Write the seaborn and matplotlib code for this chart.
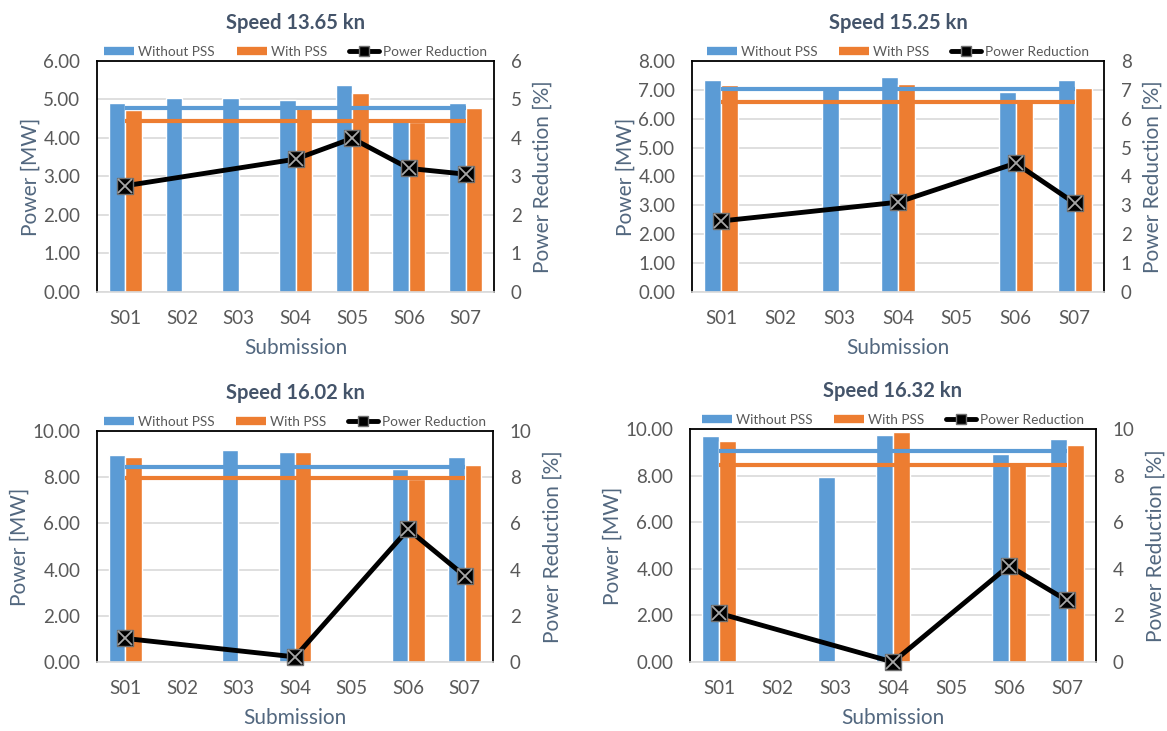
import numpy as np
import pandas as pd
import matplotlib
matplotlib.use("Agg")
import matplotlib.pyplot as plt
import seaborn as sns
from matplotlib.lines import Line2D

nan = np.nan
submissions = ["S01", "S02", "S03", "S04", "S05", "S06", "S07"]
titles = ["Speed 13.65 kn", "Speed 15.25 kn", "Speed 16.02 kn", "Speed 16.32 kn"]

without_pss_1 = [4.92, 5.03, 5.03, 4.98, 5.38, 4.52, 4.90]
with_pss_1 = [4.72, nan, nan, 4.83, 5.16, 4.42, 4.77]
reduction_1 = [2.76, nan, nan, 3.45, 3.99, 3.21, 3.06]
mean_without_1, mean_with_1 = 4.77, 4.43

without_pss_2 = [7.35, nan, 7.05, 7.43, nan, 6.92, 7.33]
with_pss_2 = [7.16, nan, nan, 7.19, nan, 6.58, 7.08]
reduction_2 = [2.46, nan, nan, 3.11, nan, 4.46, 3.08]
mean_without_2, mean_with_2 = 7.04, 6.58

without_pss_3 = [8.96, nan, 9.17, 9.11, nan, 8.37, 8.86]
with_pss_3 = [8.86, nan, nan, 9.08, nan, 7.94, 8.53]
reduction_3 = [1.02, nan, nan, 0.22, nan, 5.74, 3.73]
mean_without_3, mean_with_3 = 8.43, 7.97

without_pss_4 = [9.69, nan, 7.94, 9.76, nan, 8.91, 9.59]
with_pss_4 = [9.49, nan, nan, 9.87, nan, 8.47, 9.31]
reduction_4 = [2.09, nan, nan, 0.00, nan, 4.13, 2.64]
mean_without_4, mean_with_4 = 9.07, 8.47

y_max = [6, 8, 10, 10]
y_step = [1, 1, 2, 2]

panels = [
    (without_pss_1, with_pss_1, reduction_1, mean_without_1, mean_with_1),
    (without_pss_2, with_pss_2, reduction_2, mean_without_2, mean_with_2),
    (without_pss_3, with_pss_3, reduction_3, mean_without_3, mean_with_3),
    (without_pss_4, with_pss_4, reduction_4, mean_without_4, mean_with_4),
]

BLUE = "#5B9BD5"
ORANGE = "#ED7D31"
TICK = "#595959"
TITLE = "#44546A"
AXLAB = "#52677F"

sns.set_theme(style="white")
plt.rcParams["font.family"] = ["Lato", "DejaVu Sans"]

W, H = 1167, 731
fig = plt.figure(figsize=(W / 100, H / 100), dpi=100)

# axes boxes in pixels: left, right, top, bottom
boxes = [(97, 494, 61, 292), (692, 1104, 61, 292), (97, 493, 431, 662), (690, 1096, 429, 662)]

for i, (box, data) in enumerate(zip(boxes, panels)):
    wo, wi, red, m_wo, m_wi = data
    l, r, t, b = box
    ax = fig.add_axes([l / W, 1 - b / H, (r - l) / W, (b - t) / H])
    df = pd.DataFrame({
        "Submission": submissions * 2,
        "Power": list(wo) + list(wi),
        "Series": ["Without PSS"] * len(submissions) + ["With PSS"] * len(submissions),
    })
    sns.barplot(data=df, x="Submission", y="Power", hue="Series", order=submissions,
                hue_order=["Without PSS", "With PSS"], palette=[BLUE, ORANGE],
                width=0.58, ax=ax, legend=False, saturation=1, errorbar=None, zorder=2)
    xs = [0, len(submissions) - 1]
    ax.plot(xs, [m_wo, m_wo], color=BLUE, lw=3, zorder=3, solid_capstyle="butt")
    ax.plot(xs, [m_wi, m_wi], color=ORANGE, lw=3, zorder=3, solid_capstyle="butt")

    ax.set_xlim(-0.5, len(submissions) - 0.5)
    ax.set_ylim(0, y_max[i])
    ticks = np.arange(0, y_max[i] + 0.001, y_step[i])
    ax.set_yticks(ticks)
    ax.set_yticklabels([f"{v:.2f}" for v in ticks])
    ax.yaxis.grid(True, color="#D9D9D9", lw=1.2, zorder=0)
    ax.set_axisbelow(True)
    ax.tick_params(axis="both", length=0, colors=TICK, labelsize=13.5)
    ax.tick_params(axis="y", pad=12)
    ax.tick_params(axis="x", pad=13)
    ax.set_xlabel("Submission", fontsize=15, color=AXLAB, labelpad=8)
    ax.set_ylabel("Power [MW]", fontsize=15, color=AXLAB, labelpad=2)
    for s in ["left", "top", "right"]:
        ax.spines[s].set_color("black")
        ax.spines[s].set_linewidth(1.3)
    ax.spines["bottom"].set_color("#D9D9D9")
    ax.spines["bottom"].set_linewidth(1.2)
    ax.set_title(titles[i], fontsize=14.5, fontweight="bold", color=TITLE, pad=23)

    ax2 = ax.twinx()
    idx = [k for k, v in enumerate(red) if not np.isnan(v)]
    vals = [red[k] for k in idx]
    sns.lineplot(x=idx, y=vals, ax=ax2, color="black", lw=3.5, marker="s", markersize=12,
                 markerfacecolor="black", markeredgecolor="#6f6f6f", markeredgewidth=1,
                 clip_on=False, zorder=5)
    ax2.plot(idx, vals, ls="none", marker="x", markersize=10, markeredgewidth=1.3,
             color="#A6A6A6", clip_on=False, zorder=6)
    ax2.set_ylim(0, y_max[i])
    ax2.set_yticks(ticks)
    ax2.set_yticklabels([f"{v:g}" for v in ticks])
    ax2.tick_params(axis="y", length=0, colors=TICK, labelsize=13.5, pad=12)
    ax2.set_ylabel("Power Reduction [%]", fontsize=15, color=AXLAB, labelpad=8)
    for s in ax2.spines.values():
        s.set_visible(False)
    ax2.grid(False)

    handles = [
        Line2D([], [], color=BLUE, lw=6, solid_capstyle="butt"),
        Line2D([], [], color=ORANGE, lw=6, solid_capstyle="butt"),
        Line2D([], [], color="black", lw=3.5, marker="s", markersize=7,
               markerfacecolor="black", markeredgecolor="#6f6f6f"),
    ]
    leg = ax.legend(handles, ["Without PSS", "With PSS", "Power Reduction"],
                    loc="lower center", bbox_to_anchor=(0.5, 0.985), ncol=3,
                    frameon=False, fontsize=9.8, handlelength=2.2, handletextpad=0.3,
                    columnspacing=1.6, borderaxespad=0.1)
    for txt in leg.get_texts():
        txt.set_color(TICK)

fig.savefig("out.png", dpi=100, facecolor="white")
